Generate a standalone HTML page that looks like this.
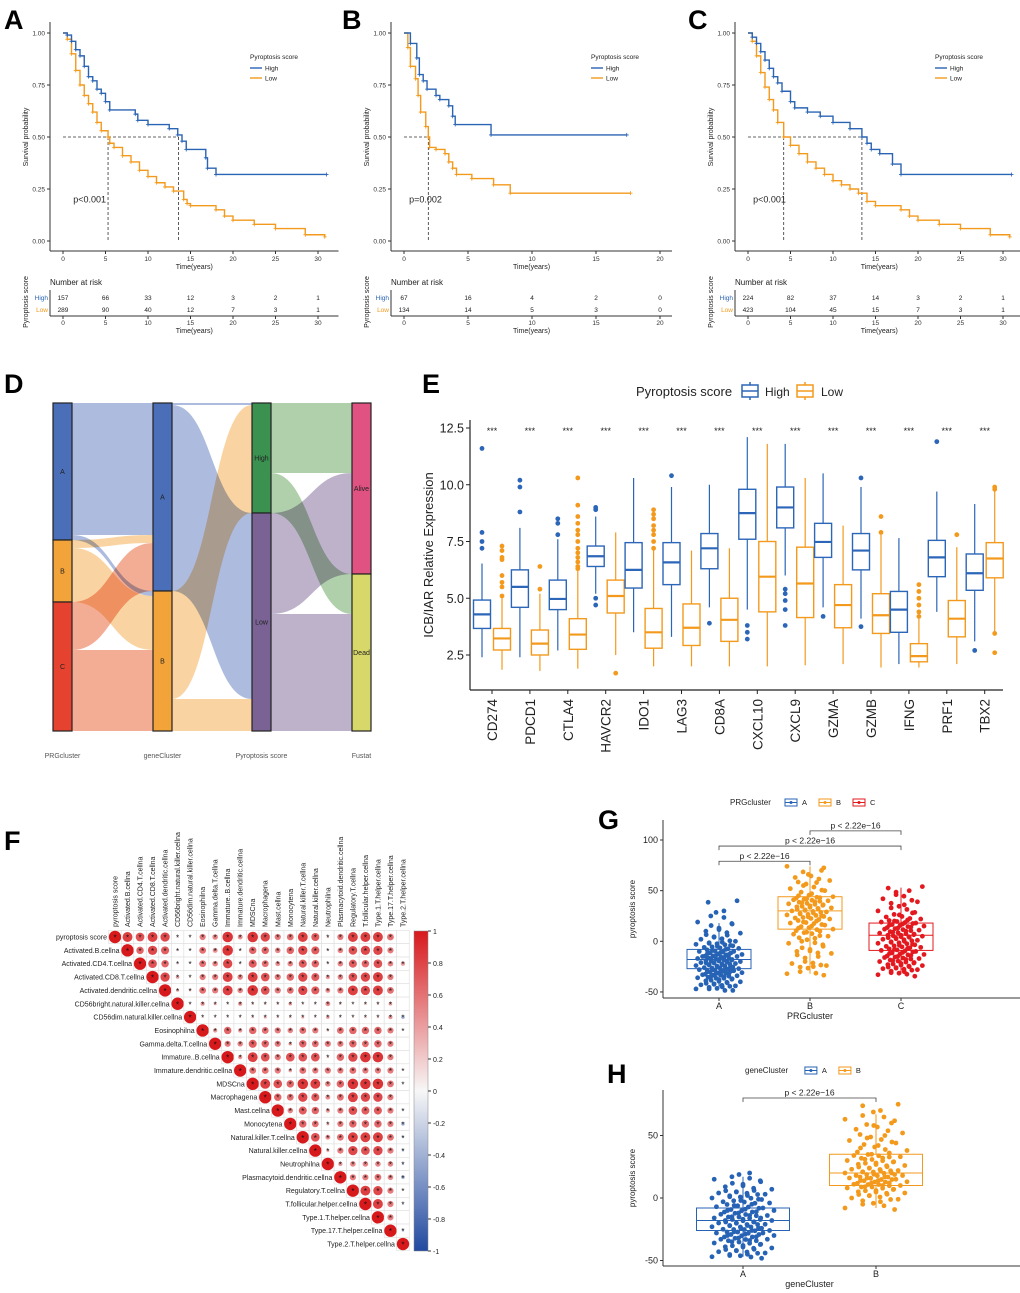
<!DOCTYPE html>
<html><head><meta charset="utf-8"><style>
html,body{margin:0;padding:0;background:#fff}
svg{display:block;font-family:"Liberation Sans",Arial,sans-serif}
</style></head><body>
<svg id="fig" width="1020" height="1293" viewBox="0 0 1020 1293" xmlns="http://www.w3.org/2000/svg">
<g id="labels" font-weight="bold" font-size="27" fill="#000">
<text x="4" y="29">A</text>
<text x="342" y="29">B</text>
<text x="688" y="29">C</text>
<text x="4" y="393">D</text>
<text x="422" y="393">E</text>
<text x="4" y="850">F</text>
<text x="598" y="829">G</text>
<text x="607" y="1083">H</text>
</g>
</svg>
<script>
// ---------- DATA ----------
// KM panel A
const kmA_high_t=[0,0.5,1,1.5,2,2.5,3,3.5,4,4.5,5,5.5,8.5,8.8,10,12.5,13.5,14,14.5,16.8,17,18,31];
const kmA_high_s=[1,0.99,0.96,0.92,0.89,0.84,0.79,0.77,0.73,0.71,0.67,0.63,0.61,0.58,0.56,0.54,0.51,0.48,0.44,0.40,0.35,0.32,0.32];
const kmA_low_t=[0,0.5,1,1.5,2,2.5,3,3.5,4,4.5,5.3,5.5,6,7,8,9,10,11,12,13,14.2,14.6,15,18,19,20,22.5,25,28.5,30.8];
const kmA_low_s=[1,0.97,0.9,0.82,0.75,0.70,0.66,0.62,0.57,0.53,0.50,0.47,0.45,0.41,0.38,0.34,0.31,0.28,0.26,0.24,0.20,0.18,0.17,0.15,0.12,0.10,0.08,0.06,0.03,0.02];
const kmA_medians=[5.3,13.6];
const riskA_high=[157,66,33,12,3,2,1];
const riskA_low=[289,90,40,12,7,3,1];
// KM panel B
const kmB_high_t=[0,0.5,1,1.2,1.5,1.8,2.5,2.8,3.5,3.8,4,6.8,17.4];
const kmB_high_s=[1,0.95,0.88,0.80,0.77,0.73,0.70,0.68,0.65,0.60,0.56,0.51,0.51];
const kmB_low_t=[0,0.3,0.5,0.9,1.1,1.3,1.7,1.9,2,2.5,3.2,3.5,3.8,4.1,5.3,7,8.3,17.7];
const kmB_low_s=[1,0.93,0.84,0.78,0.70,0.62,0.55,0.50,0.45,0.44,0.42,0.38,0.35,0.32,0.30,0.27,0.23,0.23];
const kmB_medians=[1.9];
const riskB_high=[67,16,4,2,0];
const riskB_low=[134,14,5,3,0];
// KM panel C
const kmC_high_t=[0,0.5,1,1.5,2,2.5,3,3.5,4,5,5.5,7,8.5,10,12,13.4,14,14.5,15.5,17,18,31];
const kmC_high_s=[1,0.98,0.95,0.91,0.87,0.83,0.79,0.76,0.72,0.67,0.64,0.62,0.60,0.57,0.54,0.50,0.47,0.44,0.42,0.37,0.32,0.32];
const kmC_low_t=[0,0.5,1,1.5,2,2.5,3,3.5,4.2,5,6,7,8,9,10,11,12,13,14,15,18,19,20,22.5,25,28.5,30.8];
const kmC_low_s=[1,0.96,0.89,0.81,0.74,0.68,0.63,0.57,0.50,0.46,0.42,0.38,0.35,0.32,0.29,0.27,0.25,0.23,0.19,0.17,0.15,0.12,0.10,0.08,0.06,0.03,0.02];
const kmC_medians=[4.2,13.4];
const riskC_high=[224,82,37,14,3,2,1];
const riskC_low=[423,104,45,15,7,3,1];
// Sankey
const sankeyCols=["PRGcluster","geneCluster","Pyroptosis score","Fustat"];
const sankeyNodes=[["A","B","C"],["A","B"],["High","Low"],["Alive","Dead"]];
const sankeyFlows=[ // [col, from, to, count]
 [0,0,0,132],[0,0,1,5],[0,1,0,8],[0,1,1,54],[0,2,0,48],[0,2,1,81],
 [1,0,0,2],[1,0,1,186],[1,1,0,108],[1,1,1,32],
 [2,0,0,70],[2,0,1,40],[2,1,0,101],[2,1,1,117]];
// Boxplot E
const genes=["CD274","PDCD1","CTLA4","HAVCR2","IDO1","LAG3","CD8A","CXCL10","CXCL9","GZMA","GZMB","IFNG","PRF1","TBX2"];
// [whiskerLow, q1, median, q3, whiskerHigh]
const highStats=[[2.4,3.67,4.29,4.92,6.53],[2.4,4.6,5.5,6.25,8.1],[2.7,4.5,4.97,5.8,7.6],[5.2,6.4,6.85,7.3,8.6],[3.5,5.45,6.25,7.45,10.3],[3.3,5.6,6.58,7.45,9.9],[4.6,6.3,7.2,7.85,10.0],[4.5,7.6,8.75,9.8,12.1],[6.0,8.1,9.0,9.9,11.8],[4.6,6.8,7.48,8.3,10.5],[4.1,6.25,7.1,7.85,9.9],[2.1,3.5,4.5,5.3,7.65],[4.4,5.95,6.8,7.55,9.7],[3.1,5.35,6.1,6.95,9.15]];
const lowStats=[[1.85,2.72,3.23,3.67,5.1],[1.8,2.5,3.0,3.6,5.2],[1.9,2.75,3.4,4.1,6.2],[2.5,4.35,5.1,5.8,7.9],[2.0,2.8,3.5,4.55,7.2],[2.0,2.92,3.7,4.75,7.1],[2.0,3.1,4.05,5.0,7.2],[2.0,4.4,5.95,7.5,11.8],[2.05,4.15,5.65,7.25,10.3],[2.1,3.7,4.7,5.6,8.2],[1.95,3.45,4.25,5.2,7.8],[1.95,2.2,2.45,3.0,4.1],[2.1,3.3,4.1,4.9,7.25],[3.5,5.9,6.75,7.45,9.8]];
const highOut=[[7.9,7.5,7.2,11.6],[10.2,9.9,8.8],[8.5,8.3,7.8],[9.0,8.9,4.7,5.0],[],[10.4],[3.9],[3.8,3.5,3.2],[5.4,5.2,4.9,4.5,3.8],[4.2],[10.3,3.75],[],[11.9],[2.7]];
const lowOut=[[7.3,7.1,6.8,6.7,6.0,5.7,5.5,5.1],[6.4,5.4],[10.3,9.1,8.6,8.3,8.0,7.8,7.5,7.2,7.0,6.8,6.6,6.4,6.3],[1.7],[8.9,8.7,8.5,8.2,8.0,7.8,7.5,7.2],[],[],[],[],[],[8.6,7.9],[5.6,5.3,5.0,4.7,4.4,4.2],[7.8],[9.9,9.8,3.45,2.6]];
const eTicks=[2.5,5.0,7.5,10.0,12.5];
// Correlation F
const cellTypes=["pyroptosis score","Activated.B.cellna","Activated.CD4.T.cellna","Activated.CD8.T.cellna","Activated.dendritic.cellna","CD56bright.natural.killer.cellna","CD56dim.natural.killer.cellna","Eosinophilna","Gamma.delta.T.cellna","Immature..B.cellna","Immature.dendritic.cellna","MDSCna","Macrophagena","Mast.cellna","Monocytena","Natural.killer.T.cellna","Natural.killer.cellna","Neutrophilna","Plasmacytoid.dendritic.cellna","Regulatory.T.cellna","T.follicular.helper.cellna","Type.1.T.helper.cellna","Type.17.T.helper.cellna","Type.2.T.helper.cellna"];
const corrUpper=[
[.8,.7,.8,.75,.15,.1,.5,.45,.85,.4,.85,.75,.5,.55,.8,.65,.2,.5,.8,.8,.8,.55,.02],
[.6,.75,.65,.15,.1,.55,.4,.85,.15,.6,.6,.45,.6,.75,.65,.15,.45,.7,.75,.75,.5,.02],
[.7,.6,.15,.1,.55,.45,.75,.15,.65,.55,.4,.45,.65,.6,.15,.45,.65,.6,.7,.45,.35],
[.75,.3,.15,.5,.5,.8,.45,.8,.7,.5,.6,.75,.65,.35,.45,.7,.75,.8,.5,0],
[.25,.2,.55,.5,.8,.45,.85,.7,.5,.55,.75,.65,.4,.5,.8,.75,.8,.55,-.05],
[.15,.35,.25,.15,.35,.2,.2,.2,.3,.15,.15,.4,.2,.1,.2,.2,.3,.02],
[.15,.15,.15,.15,.2,.25,.2,.2,.25,.15,.3,.15,.15,.2,.2,.35,-.3],
[.35,.6,.35,.6,.55,.5,.45,.55,.5,.2,.55,.6,.6,.6,.5,.1],
[.5,.45,.65,.6,.5,.3,.6,.55,.5,.5,.6,.55,.6,.5,.02],
[.35,.8,.7,.5,.7,.7,.7,.2,.6,.75,.85,.85,.5,.02],
[.55,.55,.5,.3,.55,.5,.5,.5,.55,.5,.5,.5,.1],
[.8,.7,.6,.85,.8,.45,.6,.85,.85,.85,.55,-.1],
[.6,.55,.75,.65,.4,.55,.8,.75,.75,.5,-.05],
[.45,.65,.6,.35,.5,.7,.65,.65,.5,-.15],
[.6,.55,.25,.5,.6,.6,.6,.5,-.3],
[.7,.4,.55,.8,.8,.8,.55,-.2],
[.25,.5,.75,.7,.75,.5,-.2],
[.35,.45,.45,.45,.45,-.2],
[.5,.5,.55,.45,-.3],
[.8,.75,.5,.1],
[.8,.5,-.15],
[.5,-.05],
[-.2]];
const cbTicks=[1,0.8,0.6,0.4,0.2,0,-0.2,-0.4,-0.6,-0.8,-1];
// Panel G
const gGroups=["A","B","C"];
const gStats=[[-47,-27,-18,-8,18],[-32,12,30,44,74],[-32,-9,6,18,53]];
const gPtsA=[-47,-47,-45,-44,-43,-42,-41,-40,-39,-38,-37,-36,-35,-35,-34,-33,-32,-32,-31,-30,-30,-29,-28,-28,-27,-27,-26,-25,-25,-24,-23,-23,-22,-21,-21,-20,-20,-19,-18,-18,-17,-17,-16,-15,-15,-14,-13,-13,-12,-11,-10,-10,-9,-8,-7,-6,-5,-4,-3,-2,-1,0,2,4,6,8,10,13,17,19,25,30,40];
const gPtsB=[-32,-30,-25,-24,-22,-20,-15,-12,-10,-8,-5,-2,0,3,5,7,9,10,12,13,15,16,18,19,20,22,23,24,25,26,27,28,29,30,31,32,33,34,35,36,37,38,39,40,41,42,43,44,45,47,50,52,55,58,60,63,66,70,74];
const gPtsC=[-33,-31,-30,-28,-27,-26,-25,-24,-23,-22,-21,-20,-19,-18,-17,-16,-15,-14,-13,-12,-11,-10,-9,-8,-7,-6,-5,-4,-3,-2,-1,0,1,2,3,4,5,6,6,7,8,9,10,11,12,13,14,15,16,17,18,19,20,21,22,24,26,28,30,33,36,39,42,46,50,54];
// Panel H
const hGroups=["A","B"];
const hStats=[[-47,-26,-18,-8,17],[-8,10,20,35,67]];
const hPtsA=[-47,-46,-45,-44,-43,-42,-41,-40,-39,-38,-37,-36,-35,-34,-33,-33,-32,-31,-30,-30,-29,-28,-28,-27,-26,-26,-25,-24,-24,-23,-22,-22,-21,-20,-20,-19,-18,-18,-17,-16,-16,-15,-14,-14,-13,-12,-11,-10,-10,-9,-8,-7,-6,-5,-4,-3,-2,-1,0,1,2,3,4,5,6,7,9,11,13,15,17,20];
const hPtsB=[-8,-5,-3,-1,0,2,3,4,5,6,7,8,9,10,10,11,12,12,13,14,14,15,16,16,17,18,18,19,20,20,21,22,22,23,24,25,26,27,28,29,30,31,32,33,34,35,36,38,40,42,44,46,48,50,52,55,58,60,63,66,70,75];

// ---------- HELPERS ----------
const NS="http://www.w3.org/2000/svg";
const svg=document.getElementById('fig');
function mk(tag,attrs,parent,text){const e=document.createElementNS(NS,tag);for(const k in attrs)e.setAttribute(k,attrs[k]);if(text!==undefined)e.textContent=text;(parent||svg).appendChild(e);return e;}
function grp(name){const g=mk('g',{});


return g;}

// ---------- KM ----------
function km(cfg){
 const g=grp(cfg.name);
 const X=t=>cfg.x0+t*cfg.px;const Y=s=>241-s*208;
 const axL=cfg.x0-13, axR=cfg.x0+(cfg.maxT)*cfg.px+12;
 mk('line',{x1:axL,y1:22,x2:axL,y2:251,stroke:'#333','stroke-width':1},g);
 mk('line',{x1:axL,y1:251,x2:axR,y2:251,stroke:'#333','stroke-width':1},g);
 [0,0.25,0.5,0.75,1].forEach(v=>{mk('line',{x1:axL-3,x2:axL,y1:Y(v),y2:Y(v),stroke:'#333'},g);
  const t=mk('text',{x:axL-5,y:Y(v)+2.5,'font-size':6.5,'text-anchor':'end',fill:'#333'},g,v.toFixed(2));
  
  });
 cfg.ticks.forEach(v=>{mk('line',{x1:X(v),x2:X(v),y1:251,y2:254,stroke:'#333'},g);
  mk('text',{x:X(v),y:261,'font-size':6.5,'text-anchor':'middle',fill:'#333'},g,v);});
 const xt=mk('text',{x:(axL+axR)/2,y:269,'font-size':7,'text-anchor':'middle',fill:'#222'},g,'Time(years)');
 
 
 const yt=mk('text',{x:0,y:0,'font-size':7,'text-anchor':'middle',fill:'#222',transform:`translate(${axL-22},137) rotate(-90)`},g,'Survival probability');
 
 
 // median lines
 const mx=cfg.medians;
 const maxM=Math.max(...mx);
 mk('line',{x1:X(0),x2:X(maxM),y1:Y(0.5),y2:Y(0.5),stroke:'#333','stroke-dasharray':'3,2','stroke-width':0.8},g);
 mx.forEach(m=>mk('line',{x1:X(m),x2:X(m),y1:Y(0.5),y2:Y(0),stroke:'#333','stroke-dasharray':'3,2','stroke-width':0.8},g));
 // curves
 [[cfg.lt,cfg.ls,'#f39a1d','low'],[cfg.ht,cfg.hs,'#2a64b4','high']].forEach(([T,S,c,n])=>{
  let d=`M${X(T[0])},${Y(S[0])}`;
  for(let i=1;i<T.length;i++){d+=`H${X(T[i])}V${Y(S[i])}`;}
  const p=mk('path',{d:d,fill:'none',stroke:c,'stroke-width':1.4},g);
  
  
  for(let i=1;i<T.length;i++){mk('path',{d:`M${X(T[i])-2},${Y(S[i])}h4M${X(T[i])},${Y(S[i])-2}v4`,stroke:c,'stroke-width':0.8},g);}
 });
 const pv=mk('text',{x:X(cfg.pT),y:Y(0.185),'font-size':9,fill:'#222'},g,cfg.p);
 
 
 // legend
 const lx=cfg.x0+187;
 const lg=mk('g',{},g);
 
 
 mk('text',{x:lx,y:59,'font-size':6.5,fill:'#222'},lg,'Pyroptosis score');
 mk('line',{x1:lx,x2:lx+12,y1:68,y2:68,stroke:'#2a64b4','stroke-width':1.4},lg);
 mk('text',{x:lx+15,y:70.5,'font-size':6.5,fill:'#222'},lg,'High');
 mk('line',{x1:lx,x2:lx+12,y1:78,y2:78,stroke:'#f39a1d','stroke-width':1.4},lg);
 mk('text',{x:lx+15,y:80.5,'font-size':6.5,fill:'#222'},lg,'Low');
 // risk table
 const rt=mk('g',{},g);
 
 
 mk('text',{x:axL,y:285,'font-size':8,fill:'#222'},rt,'Number at risk');
 mk('line',{x1:axL,y1:290,x2:axL,y2:316,stroke:'#333'},rt);
 mk('line',{x1:axL,y1:316,x2:axR,y2:316,stroke:'#333'},rt);
 mk('text',{x:axL-2,y:300,'font-size':6.5,'text-anchor':'end',fill:'#2a64b4'},rt,'High');
 mk('text',{x:axL-2,y:312,'font-size':6.5,'text-anchor':'end',fill:'#f39a1d'},rt,'Low');
 mk('text',{x:0,y:0,'font-size':7,'text-anchor':'middle',fill:'#222',transform:`translate(${axL-22},302) rotate(-90)`},rt,'Pyroptosis score');
 cfg.ticks.forEach((v,i)=>{
  mk('text',{x:X(v),y:300,'font-size':6.5,'text-anchor':'middle',fill:'#222'},rt,cfg.rh[i]);
  mk('text',{x:X(v),y:312,'font-size':6.5,'text-anchor':'middle',fill:'#222'},rt,cfg.rl[i]);
  mk('line',{x1:X(v),x2:X(v),y1:316,y2:319,stroke:'#333'},rt);
  mk('text',{x:X(v),y:325,'font-size':6.5,'text-anchor':'middle',fill:'#333'},rt,v);
 });
 mk('text',{x:(axL+axR)/2,y:333,'font-size':7,'text-anchor':'middle',fill:'#222'},rt,'Time(years)');
}
km({name:'km-panel-a',x0:63,px:8.5,maxT:31,ticks:[0,5,10,15,20,25,30],ht:kmA_high_t,hs:kmA_high_s,lt:kmA_low_t,ls:kmA_low_s,medians:kmA_medians,p:'p<0.001',pT:1.2,rh:riskA_high,rl:riskA_low});
km({name:'km-panel-b',x0:404,px:12.8,maxT:20,ticks:[0,5,10,15,20],ht:kmB_high_t,hs:kmB_high_s,lt:kmB_low_t,ls:kmB_low_s,medians:kmB_medians,p:'p=0.002',pT:0.4,rh:riskB_high,rl:riskB_low});
km({name:'km-panel-c',x0:748,px:8.5,maxT:31,ticks:[0,5,10,15,20,25,30],ht:kmC_high_t,hs:kmC_high_s,lt:kmC_low_t,ls:kmC_low_s,medians:kmC_medians,p:'p<0.001',pT:0.6,rh:riskC_high,rl:riskC_low});

// ---------- SANKEY ----------
(function(){
 const g=grp('sankey-panel-d');
 const colX=[53,153,252,352], w=19, top=403, H=328;
 const total=328;
 const nodeColors=[["#4a6fb8","#f2a43a","#e5432f"],["#4a6fb8","#f2a43a"],["#3a9150","#7a6394"],["#e05282","#d8d86a"]];
 const flowColors=[["#9fafd9","#f8cd92","#f29f82"],["#9fafd9","#f8cd92"],["#a2c89c","#b3a4c2"]];
 // node sizes
 const sizes=sankeyNodes.map((ns,c)=>ns.map(()=>0));
 sankeyFlows.forEach(f=>{if(f[0]===0){sizes[0][f[1]]+=f[3];}sizes[f[0]+1][f[2]]+=f[3];});
 const sc=H/total;
 const nodeY=sizes.map(col=>{let y=top;return col.map(s=>{const r=[y,y+s*sc];y+=s*sc;return r;});});
 const outOff=nodeY.map(col=>col.map(r=>r[0]));
 const inOff=nodeY.map(col=>col.map(r=>r[0]));
 // flows ordered: for source stacking by target; for target stacking by source (natural order of array)
 sankeyFlows.forEach(f=>{
  const [c,a,b,n]=f;const h=n*sc;
  const y1=outOff[c][a];outOff[c][a]+=h;
  const y2=inOff[c+1][b];inOff[c+1][b]+=h;
  const x1=colX[c]+w,x2=colX[c+1],mx=(x1+x2)/2;
  const p=mk('path',{d:`M${x1},${y1}C${mx},${y1} ${mx},${y2} ${x2},${y2}L${x2},${y2+h}C${mx},${y2+h} ${mx},${y1+h} ${x1},${y1+h}Z`,fill:flowColors[c][a],'fill-opacity':0.85,style:'mix-blend-mode:multiply'},g);
  
  
 });
 nodeY.forEach((col,c)=>col.forEach((r,i)=>{
  const rc=mk('rect',{x:colX[c],y:r[0],width:w,height:r[1]-r[0],fill:nodeColors[c][i],stroke:'#222','stroke-width':1.2},g);
  
  
  mk('text',{x:colX[c]+w/2,y:(r[0]+r[1])/2+2.5,'font-size':7,'text-anchor':'middle',fill:'#222'},g,sankeyNodes[c][i]);
 }));
 sankeyCols.forEach((t,c)=>{const e=mk('text',{x:colX[c]+w/2,y:758,'font-size':7,'text-anchor':'middle',fill:'#555'},g,t);
  
  });
})();

// ---------- BOXPLOT E ----------
(function(){
 const g=grp('boxplot-panel-e');
 const X=i=>492+i*37.9;const Y=v=>428+(12.5-v)*22.7;
 mk('line',{x1:470,y1:420,x2:470,y2:690,stroke:'#222','stroke-width':1.2},g);
 mk('line',{x1:470,y1:690,x2:1003,y2:690,stroke:'#222','stroke-width':1.2},g);
 eTicks.forEach(v=>{mk('line',{x1:466,x2:470,y1:Y(v),y2:Y(v),stroke:'#222'},g);
  mk('text',{x:464,y:Y(v)+4.5,'font-size':12.5,'text-anchor':'end',fill:'#222'},g,v.toFixed(1));});
 const yt=mk('text',{x:0,y:0,'font-size':13,'text-anchor':'middle',fill:'#222',transform:'translate(433,555) rotate(-90)'},g,'ICB/IAR Relative Expression');
 
 
 const lg=mk('g',{},g);
 
 
 mk('text',{x:636,y:396,'font-size':13,fill:'#222'},lg,'Pyroptosis score');
 [[742,'#2c66b8','High',765],[797,'#f39a1d','Low',821]].forEach(([x,c,t,tx])=>{
  mk('rect',{x:x,y:385,width:16,height:12,fill:'none',stroke:c,'stroke-width':1.5},lg);
  mk('line',{x1:x,x2:x+16,y1:391,y2:391,stroke:c,'stroke-width':1.5},lg);
  mk('line',{x1:x+8,x2:x+8,y1:382,y2:385,stroke:c,'stroke-width':1.5},lg);
  mk('line',{x1:x+8,x2:x+8,y1:397,y2:400,stroke:c,'stroke-width':1.5},lg);
  mk('text',{x:tx,y:396,'font-size':12,fill:'#222'},lg,t);});
 function box(cx,st,out,c,name){
  const bw=17;
  const b=mk('g',{},g);
  
  
  mk('line',{x1:cx,x2:cx,y1:Y(st[0]),y2:Y(st[4]),stroke:c,'stroke-width':1.2},b);
  mk('rect',{x:cx-bw/2,y:Y(st[3]),width:bw,height:Y(st[1])-Y(st[3]),fill:'#fff',stroke:c,'stroke-width':1.4},b);
  mk('line',{x1:cx-bw/2,x2:cx+bw/2,y1:Y(st[2]),y2:Y(st[2]),stroke:c,'stroke-width':2.2},b);
  out.forEach(v=>mk('circle',{cx:cx,cy:Y(v),r:2.4,fill:c},b));
 }
 genes.forEach((gn,i)=>{
  box(X(i)-10,highStats[i],highOut[i],'#2c66b8','box-high-'+gn.toLowerCase());
  box(X(i)+10,lowStats[i],lowOut[i],'#f39a1d','box-low-'+gn.toLowerCase());
  mk('text',{x:X(i),y:434,'font-size':9,'text-anchor':'middle',fill:'#222'},g,'***');
  mk('line',{x1:X(i),x2:X(i),y1:690,y2:694,stroke:'#222'},g);
  const t=mk('text',{x:0,y:0,'font-size':13.5,'text-anchor':'end',fill:'#222',transform:`translate(${X(i)+5},699) rotate(-90)`},g,gn);
  
  
 });
})();

// ---------- CORRELATION F ----------
(function(){
 const g=grp('corrplot-panel-f');
 const n=cellTypes.length;
 const X=j=>115+j*12.52, Y=i=>937+i*13.35, s=12.52, sh=13.35;
 function col(r){
  const a=Math.min(1,Math.abs(r));
  const [R,G,B]=r>=0?[215,25,28]:[33,72,160];
  const mix=(c)=>Math.round(255+(c-255)*Math.pow(a,0.8));
  return `rgb(${mix(R)},${mix(G)},${mix(B)})`;
 }
 const defs=mk('defs',{},svg);
 const lgd=mk('linearGradient',{id:'cbgrad',x1:0,y1:0,x2:0,y2:1},defs);
 mk('stop',{offset:'0','stop-color':'#d7191c'},lgd);mk('stop',{offset:'0.5','stop-color':'#f7f7f7'},lgd);mk('stop',{offset:'1','stop-color':'#2149a0'},lgd);
 for(let i=0;i<n;i++){
  for(let j=i;j<n;j++){
   const r=j===i?1:corrUpper[i][j-i-1];
   mk('rect',{x:X(j)-s/2,y:Y(i)-sh/2,width:s,height:sh,fill:'#fff',stroke:'#ddd','stroke-width':0.6},g);
   const c=mk('circle',{cx:X(j),cy:Y(i),r:Math.max(0.3,Math.abs(r)*6.2),fill:col(r)},g);
   
   
   if(Math.abs(r)>=0.08) mk('text',{x:X(j),y:Y(i)+3.5,'font-size':8,'text-anchor':'middle',fill:'#111'},g,'*');
  }
  const rl=mk('text',{x:X(i)-8,y:Y(i)+2.5,'font-size':7,'text-anchor':'end',fill:'#222'},g,cellTypes[i]);
  
  
  const cl=mk('text',{x:0,y:0,'font-size':7,fill:'#222',transform:`translate(${X(i)+2.5},927) rotate(-90)`},g,cellTypes[i]);
  
  
 }
 const cb=mk('rect',{x:414,y:931,width:14,height:320,fill:'url(#cbgrad)',stroke:'#888','stroke-width':0.5},g);
 
 
 cbTicks.forEach(v=>{const y=931+(1-v)/2*320;
  mk('line',{x1:428,x2:431,y1:y,y2:y,stroke:'#333'},g);
  mk('text',{x:433,y:y+3,'font-size':7,fill:'#222'},g,String(v));});
})();

// ---------- JITTER BOX G/H ----------
function jitterPanel(cfg){
 const g=grp(cfg.name);
 const Y=v=>cfg.y0-(v-cfg.v0)*cfg.py;
 mk('line',{x1:cfg.axL,y1:cfg.axTop,x2:cfg.axL,y2:cfg.axB,stroke:'#333','stroke-width':1},g);
 mk('line',{x1:cfg.axL,y1:cfg.axB,x2:cfg.axR,y2:cfg.axB,stroke:'#333','stroke-width':1},g);
 cfg.ticks.forEach(v=>{mk('line',{x1:cfg.axL-3,x2:cfg.axL,y1:Y(v),y2:Y(v),stroke:'#333'},g);
  mk('text',{x:cfg.axL-5,y:Y(v)+3,'font-size':9,'text-anchor':'end',fill:'#222'},g,v);});
 const yt=mk('text',{x:0,y:0,'font-size':8,'text-anchor':'middle',fill:'#222',transform:`translate(${cfg.axL-28},${(cfg.axTop+cfg.axB)/2}) rotate(-90)`},g,'pyroptosis score');
 
 
 const xt=mk('text',{x:cfg.xs[Math.floor(cfg.xs.length/2)]-(cfg.xs.length===2?-0:0),y:cfg.axB+21,'font-size':9,'text-anchor':'middle',fill:'#222'},g,cfg.xTitle);
 if(cfg.xs.length===2){xt.setAttribute('x',(cfg.xs[0]+cfg.xs[1])/2);}
 
 
 cfg.groups.forEach((gr,i)=>{
  const cx=cfg.xs[i],c=cfg.colors[i],st=cfg.stats[i],bw=cfg.bw;
  mk('line',{x1:cx,x2:cx,y1:cfg.axB,y2:cfg.axB+3,stroke:'#333'},g);
  mk('text',{x:cx,y:cfg.axB+11,'font-size':9,'text-anchor':'middle',fill:'#222'},g,gr);
  const b=mk('g',{},g);
  
  
  mk('line',{x1:cx,x2:cx,y1:Y(st[0]),y2:Y(st[4]),stroke:c,'stroke-width':1},b);
  mk('rect',{x:cx-bw/2,y:Y(st[3]),width:bw,height:Y(st[1])-Y(st[3]),fill:'#fff',stroke:c,'stroke-width':1},b);
  mk('line',{x1:cx-bw/2,x2:cx+bw/2,y1:Y(st[2]),y2:Y(st[2]),stroke:c,'stroke-width':1},b);
  const pts=cfg.pts[i];
  pts.forEach((v,k)=>{
   const jx=((k*37)%29/28-0.5)*cfg.jw;
   mk('circle',{cx:cx+jx,cy:Y(v),r:2.4,fill:c},b);
   mk('circle',{cx:cx-jx*0.6,cy:Y(v)+1.5,r:2.4,fill:c},b);
  });
 });
 cfg.brackets.forEach(([a,b2,yv])=>{
  const y=Y(yv);
  mk('path',{d:`M${cfg.xs[a]},${y+4}V${y}H${cfg.xs[b2]}V${y+4}`,fill:'none',stroke:'#444','stroke-width':0.8},g);
  const t=mk('text',{x:(cfg.xs[a]+cfg.xs[b2])/2,y:y-2.5,'font-size':8.5,'text-anchor':'middle',fill:'#222'},g,'p < 2.22e\u221216');
  
  
 });
 const lg=mk('g',{},g);
 
 
 mk('text',{x:cfg.legX,y:cfg.legY+3,'font-size':8,fill:'#222'},lg,cfg.legTitle);
 let lx=cfg.legX+cfg.legTitle.length*4.9+6;
 cfg.groups.forEach((gr,i)=>{const c=cfg.colors[i];
  mk('rect',{x:lx,y:cfg.legY-3,width:12,height:7,fill:'none',stroke:c},lg);
  mk('line',{x1:lx,x2:lx+12,y1:cfg.legY+0.5,y2:cfg.legY+0.5,stroke:c},lg);
  mk('circle',{cx:lx+6,cy:cfg.legY+0.5,r:1.5,fill:c},lg);
  mk('text',{x:lx+17,y:cfg.legY+3,'font-size':7.5,fill:'#222'},lg,gr);lx+=34;});
}
jitterPanel({name:'boxplot-panel-g',groups:gGroups,stats:gStats,pts:[gPtsA,gPtsB,gPtsC],colors:['#2763b5','#f39a1d','#e3191f'],
 xs:[719,810,901],bw:64,jw:46,y0:840,v0:100,py:1.013,axL:663,axR:1020,axTop:820,axB:998,ticks:[100,50,0,-50],xTitle:'PRGcluster',
 brackets:[[0,1,79],[0,2,94],[1,2,109]],legX:730,legY:802,legTitle:'PRGcluster'});
jitterPanel({name:'boxplot-panel-h',groups:hGroups,stats:hStats,pts:[hPtsA,hPtsB],colors:['#2763b5','#f39a1d'],
 xs:[743,876],bw:93,jw:62,y0:1198,v0:0,py:1.25,axL:663,axR:1020,axTop:1090,axB:1266,ticks:[50,0,-50],xTitle:'geneCluster',
 brackets:[[0,1,80]],legX:745,legY:1070,legTitle:'geneCluster'});
</script>
</body></html>
